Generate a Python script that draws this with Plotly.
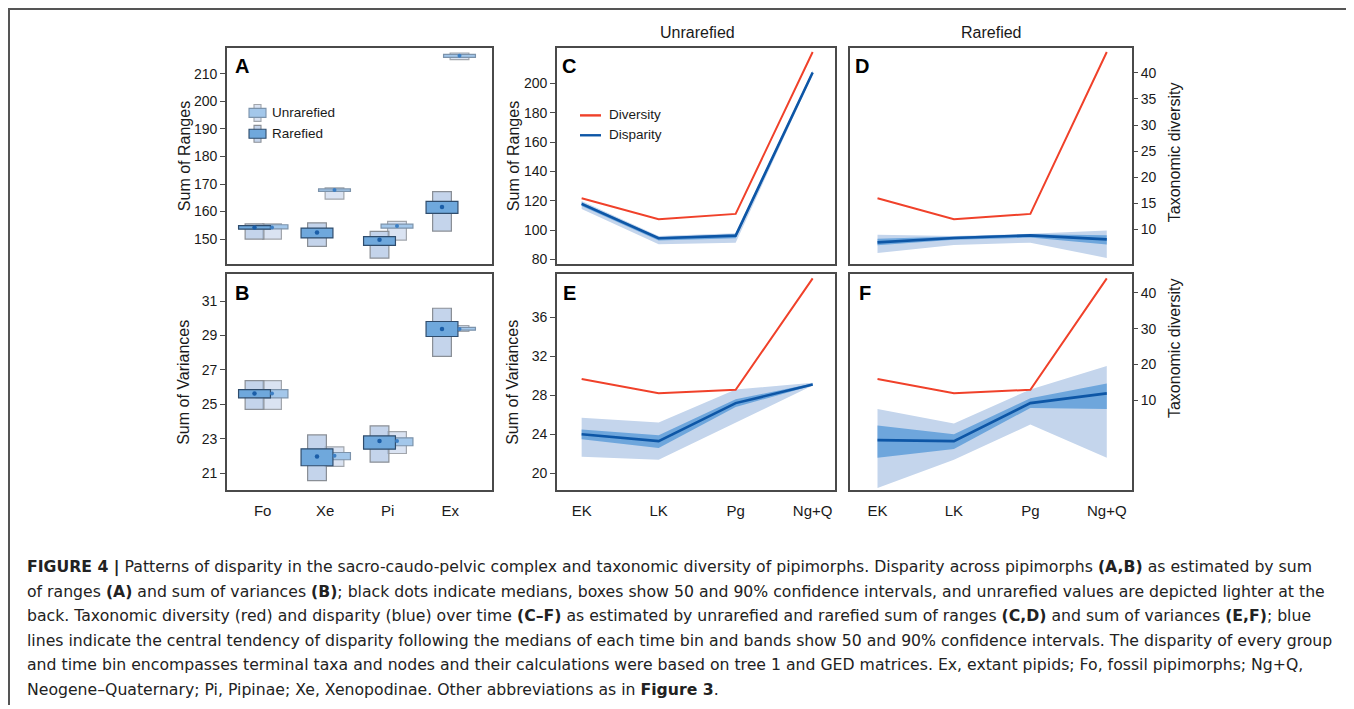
import plotly.graph_objects as go

# ---------------- data ----------------
groups = ["Fo", "Xe", "Pi", "Ex"]

# Panel A: sum of ranges
a_rar_med = [154.2, 152.4, 149.7, 161.6]
a_rar_50_lo = [153.6, 150.4, 147.7, 159.3]
a_rar_50_hi = [154.9, 154.0, 150.9, 163.7]
a_rar_90_lo = [150.0, 147.3, 143.1, 152.9]
a_rar_90_hi = [155.5, 155.9, 152.8, 167.2]
a_unr_med = [154.2, 167.8, 154.7, 216.6]
a_unr_50_lo = [153.7, 167.3, 154.0, 216.0]
a_unr_50_hi = [155.2, 168.2, 155.4, 217.1]
a_unr_90_lo = [150.0, 164.5, 149.6, 215.2]
a_unr_90_hi = [155.5, 168.6, 156.4, 217.6]

# Panel B: sum of variances
b_rar_med = [25.63, 21.98, 22.88, 29.37]
b_rar_50_lo = [25.38, 21.44, 22.40, 28.94]
b_rar_50_hi = [25.86, 22.42, 23.17, 29.81]
b_rar_90_lo = [24.71, 20.58, 21.65, 27.79]
b_rar_90_hi = [26.38, 23.23, 23.75, 30.58]
b_unr_med = [25.63, 22.02, 22.88, 29.38]
b_unr_50_lo = [25.38, 21.79, 22.60, 29.31]
b_unr_50_hi = [25.86, 22.21, 23.06, 29.47]
b_unr_90_lo = [24.71, 21.40, 22.15, 29.23]
b_unr_90_hi = [26.38, 22.54, 23.42, 29.58]

bins = ["EK", "LK", "Pg", "Ng+Q"]
diversity = [16, 12, 13, 44]

# Panel C: unrarefied sum of ranges
c_med = [118.0, 94.5, 96.3, 207.5]
c_50_lo = [116.5, 93.0, 94.5, 206.8]
c_50_hi = [119.0, 95.3, 97.2, 208.3]
c_90_lo = [114.5, 90.5, 91.5, 206.0]
c_90_hi = [120.0, 96.0, 98.0, 209.0]

# Panel D: rarefied sum of ranges
d_med = [91.7, 94.7, 96.5, 93.8]
d_50_lo = [89.7, 93.5, 95.0, 90.2]
d_50_hi = [94.2, 95.5, 97.2, 96.5]
d_90_lo = [84.5, 90.0, 91.5, 81.1]
d_90_hi = [97.0, 96.0, 97.6, 99.9]

# Panel E: unrarefied sum of variances
e_med = [24.0, 23.3, 27.2, 29.1]
e_50_lo = [23.5, 22.6, 26.8, 29.0]
e_50_hi = [24.5, 23.9, 27.6, 29.2]
e_90_lo = [21.7, 21.4, 25.2, 29.0]
e_90_hi = [25.7, 25.2, 28.6, 29.3]

# Panel F: rarefied sum of variances
f_med = [23.4, 23.3, 27.2, 28.2]
f_50_lo = [21.6, 22.5, 26.7, 26.6]
f_50_hi = [24.9, 24.0, 27.7, 29.2]
f_90_lo = [18.5, 21.4, 25.0, 21.6]
f_90_hi = [26.6, 25.1, 28.6, 31.0]

caption_lines = [
    "<b>FIGURE 4 |</b> Patterns of disparity in the sacro-caudo-pelvic complex and taxonomic diversity of pipimorphs. Disparity across pipimorphs <b>(A,B)</b> as estimated by sum",
    "of ranges <b>(A)</b> and sum of variances <b>(B)</b>; black dots indicate medians, boxes show 50 and 90% confidence intervals, and unrarefied values are depicted lighter at the",
    "back. Taxonomic diversity (red) and disparity (blue) over time <b>(C\u2013F)</b> as estimated by unrarefied and rarefied sum of ranges <b>(C,D)</b> and sum of variances <b>(E,F)</b>; blue",
    "lines indicate the central tendency of disparity following the medians of each time bin and bands show 50 and 90% confidence intervals. The disparity of every group",
    "and time bin encompasses terminal taxa and nodes and their calculations were based on tree 1 and GED matrices. Ex, extant pipids; Fo, fossil pipimorphs; Ng+Q,",
    "Neogene\u2013Quaternary; Pi, Pipinae; Xe, Xenopodinae. Other abbreviations as in <b>Figure 3</b>.",
]

# ---------------- style ----------------
PAGE_OFF = 8          # default body margin of the html page
W, H = 1354 - PAGE_OFF, 709 - PAGE_OFF
FONT = "Liberation Sans, Arial, sans-serif"
CAPFONT = "DejaVu Sans, sans-serif"
AX = "#4a4a4a"
TXT = "#1a1a1a"
RED = "#f0412a"
BLUE = "#0d56a6"
BAND90 = "#c4d5ec"
BAND50 = "#6ea6dc"
R90_FILL, R90_LINE = "rgba(176,198,228,0.75)", "#8a8f96"
R50_FILL, R50_LINE = "#6fa8dc", "#2f4c6c"
U90_FILL, U90_LINE = "rgba(205,218,238,0.75)", "#a2a6ac"
U50_FILL, U50_LINE = "#a3c7ea", "#7c93ab"
DOT = "#1b5ea8"


def fx(px):
    return (px - PAGE_OFF) / W


def fy(py):
    return 1 - (py - PAGE_OFF) / H


fig = go.Figure()
xpos = list(range(len(groups)))
tpos = list(range(len(bins)))
OFF_R, OFF_U = -0.13, 0.15
W90, W50 = 0.30, 0.51


def add_boxes(xa, ya, med_r, lo50_r, hi50_r, lo90_r, hi90_r, med_u, lo50_u, hi50_u, lo90_u, hi90_u):
    specs = [
        (OFF_U, lo90_u, hi90_u, W90, U90_FILL, U90_LINE),
        (OFF_U, lo50_u, hi50_u, W50, U50_FILL, U50_LINE),
        (OFF_R, lo90_r, hi90_r, W90, R90_FILL, R90_LINE),
        (OFF_R, lo50_r, hi50_r, W50, R50_FILL, R50_LINE),
    ]
    for off, lo, hi, wd, fc, lc in specs:
        fig.add_trace(go.Bar(
            x=[p + off for p in xpos], base=lo, y=[h - l for h, l in zip(hi, lo)],
            width=wd, marker=dict(color=fc, line=dict(color=lc, width=1.2)),
            xaxis=xa, yaxis=ya, showlegend=False, hoverinfo="skip"))
    fig.add_trace(go.Scatter(x=[p + OFF_U for p in xpos], y=med_u, mode="markers",
                             marker=dict(color="#3d7fc4", size=4), xaxis=xa, yaxis=ya,
                             showlegend=False, hoverinfo="skip"))
    fig.add_trace(go.Scatter(x=[p + OFF_R for p in xpos], y=med_r, mode="markers",
                             marker=dict(color=DOT, size=4.5), xaxis=xa, yaxis=ya,
                             showlegend=False, hoverinfo="skip"))


add_boxes("x", "y", a_rar_med, a_rar_50_lo, a_rar_50_hi, a_rar_90_lo, a_rar_90_hi,
          a_unr_med, a_unr_50_lo, a_unr_50_hi, a_unr_90_lo, a_unr_90_hi)
add_boxes("x2", "y2", b_rar_med, b_rar_50_lo, b_rar_50_hi, b_rar_90_lo, b_rar_90_hi,
          b_unr_med, b_unr_50_lo, b_unr_50_hi, b_unr_90_lo, b_unr_90_hi)


def add_time_panel(xa, ya_left, ya_right, med, lo50, hi50, lo90, hi90):
    for lo, hi, col in [(lo90, hi90, BAND90), (lo50, hi50, BAND50)]:
        fig.add_trace(go.Scatter(
            x=tpos + tpos[::-1], y=list(hi) + list(lo)[::-1], fill="toself",
            fillcolor=col, line=dict(width=0), mode="lines",
            xaxis=xa, yaxis=ya_left, showlegend=False, hoverinfo="skip"))
    fig.add_trace(go.Scatter(x=tpos, y=med, mode="lines", line=dict(color=BLUE, width=2.6),
                             xaxis=xa, yaxis=ya_left, showlegend=False, hoverinfo="skip"))
    fig.add_trace(go.Scatter(x=tpos, y=diversity, mode="lines", line=dict(color=RED, width=2),
                             xaxis=xa, yaxis=ya_right, showlegend=False, hoverinfo="skip"))


add_time_panel("x3", "y3", "y4", c_med, c_50_lo, c_50_hi, c_90_lo, c_90_hi)
add_time_panel("x4", "y5", "y6", d_med, d_50_lo, d_50_hi, d_90_lo, d_90_hi)
add_time_panel("x5", "y7", "y8", e_med, e_50_lo, e_50_hi, e_90_lo, e_90_hi)
add_time_panel("x6", "y9", "y10", f_med, f_50_lo, f_50_hi, f_90_lo, f_90_hi)

tickfont = dict(family=FONT, size=14, color=TXT)
frame = dict(showline=True, linecolor=AX, linewidth=1.6, mirror=True, showgrid=False, zeroline=False)


def xax(px0, px1, anchor, rng, labels):
    d = dict(domain=[fx(px0), fx(px1)], anchor=anchor, range=rng, **frame)
    if labels is None:
        d.update(showticklabels=False, ticks="")
    else:
        d.update(tickmode="array", tickvals=list(range(len(labels))), ticktext=labels,
                 ticks="", tickfont=dict(family=FONT, size=15, color=TXT), ticklabelstandoff=6)
    return d


def yax(py0, py1, anchor, rng, tickvals=None):
    d = dict(domain=[fy(py1), fy(py0)], anchor=anchor, range=rng, **frame)
    if tickvals is None:
        d.update(showticklabels=False, ticks="")
    else:
        d.update(tickmode="array", tickvals=tickvals, ticks="outside", ticklen=5,
                 tickcolor=AX, tickwidth=1.2, tickfont=tickfont)
    return d


def yright(overlay, anchor, rng, tickvals=None):
    d = dict(overlaying=overlay, anchor=anchor, side="right", range=rng,
             showgrid=False, zeroline=False, showline=False)
    if tickvals is None:
        d.update(showticklabels=False, ticks="")
    else:
        d.update(tickmode="array", tickvals=tickvals, ticks="outside", ticklen=5,
                 tickcolor=AX, tickwidth=1.2, tickfont=tickfont)
    return d


A_X, C_X, D_X = (227, 492), (557, 835), (850, 1132)
TOP, BOT = (48, 265), (276, 493)
XR_AB = [-0.57, 3.67]
XR_C = [-0.32, 3.29]
XR_D = [-0.36, 3.33]
YR_SOR = [77.3, 224.4]
YR_SOV = [18.26, 40.4]
YR_DIV_TOP = [3.5, 44.8]
YR_DIV_BOT = [-15.0, 45.1]

fig.update_layout(
    xaxis=xax(*A_X, "y", XR_AB, None),
    yaxis=yax(*TOP, "x", [141.1, 219.5], [150, 160, 170, 180, 190, 200, 210]),
    xaxis2=xax(*A_X, "y2", XR_AB, groups),
    yaxis2=yax(*BOT, "x2", [20.02, 32.54], [21, 23, 25, 27, 29, 31]),
    xaxis3=xax(*C_X, "y3", XR_C, None),
    yaxis3=yax(*TOP, "x3", YR_SOR, [80, 100, 120, 140, 160, 180, 200]),
    yaxis4=yright("y3", "x3", YR_DIV_TOP),
    xaxis4=xax(*D_X, "y5", XR_D, None),
    yaxis5=yax(*TOP, "x4", YR_SOR),
    yaxis6=yright("y5", "x4", YR_DIV_TOP, [10, 15, 20, 25, 30, 35, 40]),
    xaxis5=xax(*C_X, "y7", XR_C, bins),
    yaxis7=yax(*BOT, "x5", YR_SOV, [20, 24, 28, 32, 36]),
    yaxis8=yright("y7", "x5", YR_DIV_BOT),
    xaxis6=xax(*D_X, "y9", XR_D, bins),
    yaxis9=yax(*BOT, "x6", YR_SOV),
    yaxis10=yright("y9", "x6", YR_DIV_BOT, [10, 20, 30, 40]),
    barmode="overlay",
    width=W, height=H,
    margin=dict(l=0, r=0, t=0, b=0),
    paper_bgcolor="white", plot_bgcolor="white",
    showlegend=False,
    font=dict(family=FONT, color=TXT),
)

ann = []


def txt(x, y, s, size=14, angle=0, bold=False, xanchor="center", color=TXT, family=FONT):
    ann.append(dict(x=fx(x), y=fy(y), xref="paper", yref="paper", text=("<b>%s</b>" % s) if bold else s,
                    showarrow=False, textangle=angle, xanchor=xanchor, yanchor="middle",
                    font=dict(family=family, size=size, color=color)))


# axis titles
txt(184, 157, "Sum of Ranges", 16, -90)
txt(184, 385, "Sum of Variances", 16, -90)
txt(513, 157, "Sum of Ranges", 16, -90)
txt(513, 385, "Sum of Variances", 16, -90)
txt(1174, 153, "Taxonomic diversity", 16, -90)
txt(1174, 350, "Taxonomic diversity", 16, -90)
# column titles
txt(697, 33, "Unrarefied", 16)
txt(991, 33, "Rarefied", 16)
# panel letters
for lx, ly, l in [(242, 66, "A"), (242, 295, "B"), (569, 66, "C"), (862, 66, "D"), (569, 295, "E"), (865, 295, "F")]:
    txt(lx, ly, l, 20, bold=True, color="#000")
# legend texts
txt(270, 113, "Unrarefied", 13.5, xanchor="left")
txt(270, 134, "Rarefied", 13.5, xanchor="left")
txt(607, 115, "Diversity", 13.5, xanchor="left")
txt(607, 135, "Disparity", 13.5, xanchor="left")
# caption
for i, line in enumerate(caption_lines):
    txt(25, 570 + 24.6 * i, line, 15.7, xanchor="left", color="#222", family=CAPFONT)

shapes = []


def rect(x0, y0, x1, y1, fc, lc):
    shapes.append(dict(type="rect", xref="paper", yref="paper", x0=fx(x0), x1=fx(x1),
                       y0=fy(y1), y1=fy(y0), fillcolor=fc, line=dict(color=lc, width=1.1)))


# legend icons for A
rect(254, 105, 261, 122, U90_FILL, U90_LINE)
rect(249, 109, 266, 118, U50_FILL, U50_LINE)
rect(254, 126, 261, 143, R90_FILL, R90_LINE)
rect(249, 130, 266, 139, R50_FILL, R50_LINE)
# legend lines for C
for yy, col in [(116, RED), (136, BLUE)]:
    shapes.append(dict(type="line", xref="paper", yref="paper", x0=fx(580), x1=fx(601),
                       y0=fy(yy), y1=fy(yy), line=dict(color=col, width=2.4)))
# outer figure frame (top and left edges)
shapes.append(dict(type="line", xref="paper", yref="paper", x0=fx(8), x1=1, y0=fy(9), y1=fy(9),
                   line=dict(color="#555", width=2)))
shapes.append(dict(type="line", xref="paper", yref="paper", x0=fx(9), x1=fx(9), y0=fy(9), y1=0,
                   line=dict(color="#555", width=2)))

fig.update_layout(annotations=ann, shapes=shapes)
fig.write_html("out.html")
